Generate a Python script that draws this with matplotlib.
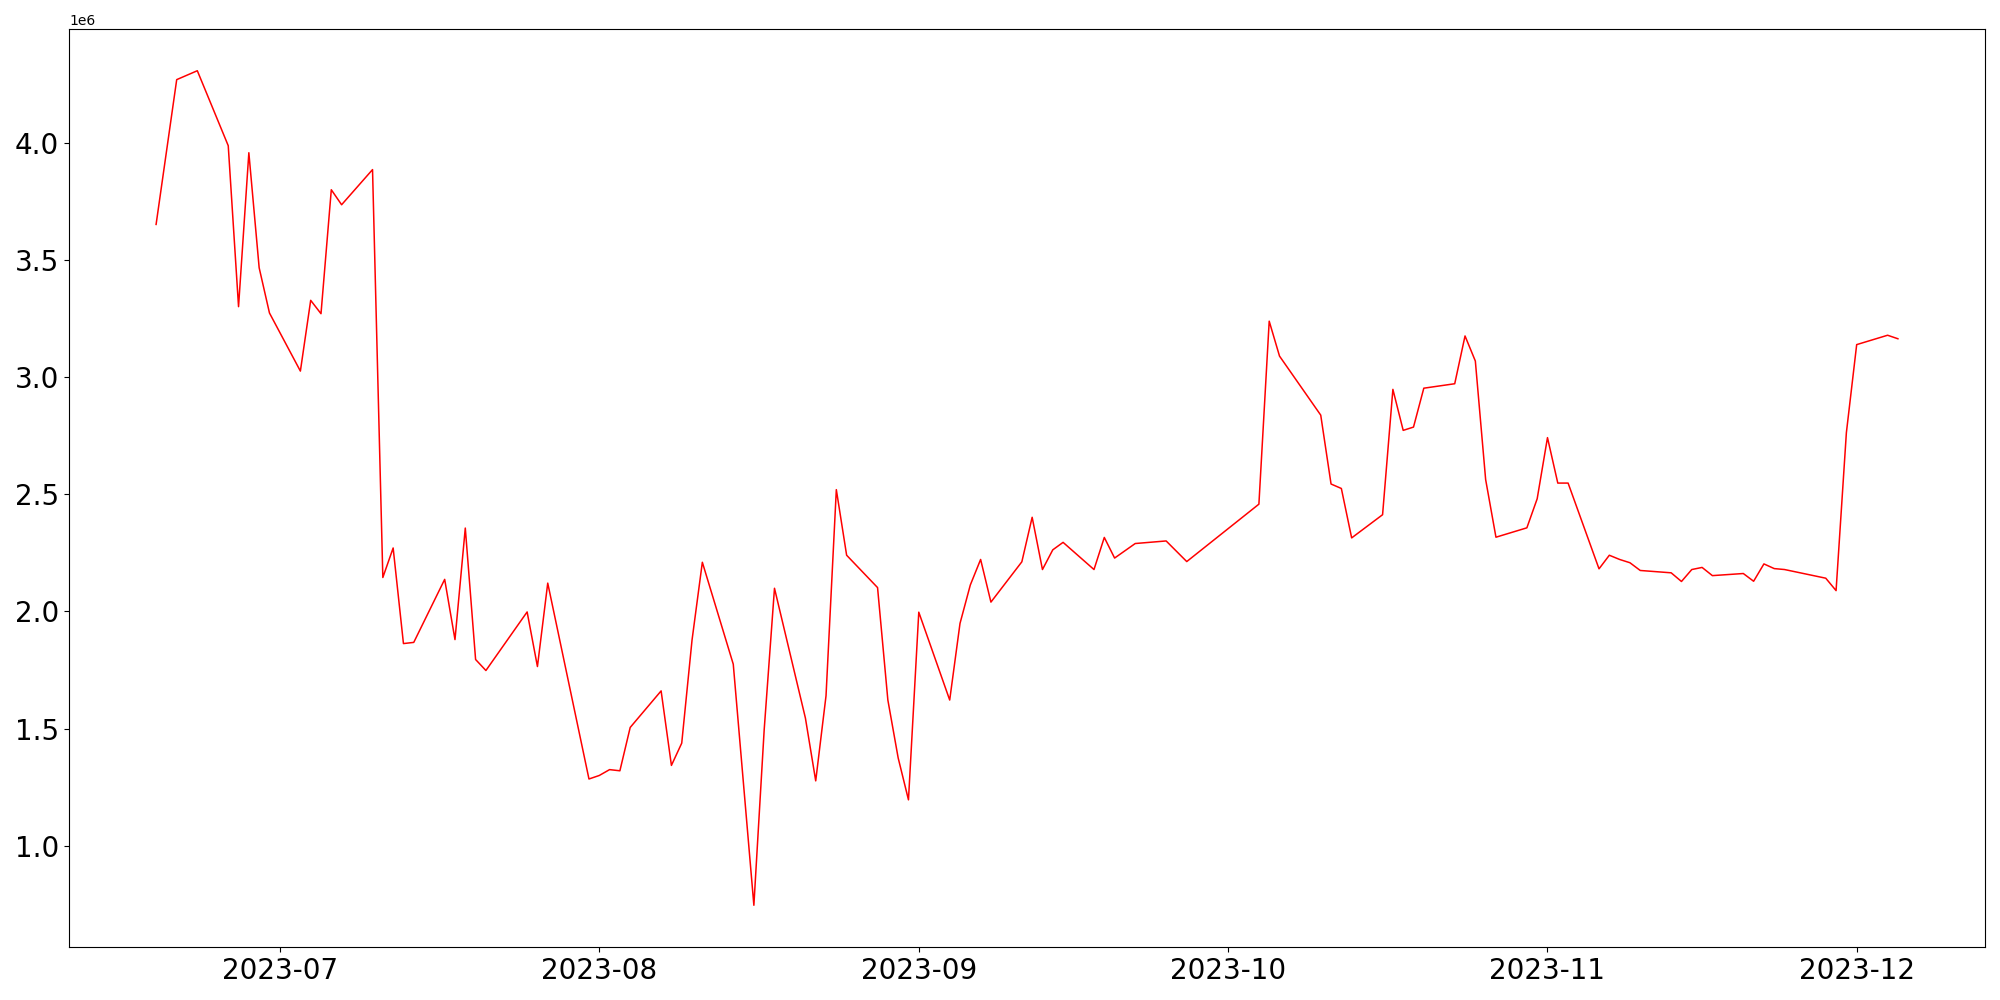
import matplotlib
matplotlib.use("Agg")
import matplotlib.pyplot as plt
import matplotlib.dates as mdates
import pandas as pd

dates = [
    "2023-06-19", "2023-06-21", "2023-06-23", "2023-06-26", "2023-06-27", "2023-06-28",
    "2023-06-29", "2023-06-30", "2023-07-03", "2023-07-04", "2023-07-05", "2023-07-06",
    "2023-07-07", "2023-07-10", "2023-07-11", "2023-07-12", "2023-07-13", "2023-07-14",
    "2023-07-17", "2023-07-18", "2023-07-19", "2023-07-20", "2023-07-21", "2023-07-25",
    "2023-07-26", "2023-07-27", "2023-07-31", "2023-08-01", "2023-08-02", "2023-08-03",
    "2023-08-04", "2023-08-07", "2023-08-08", "2023-08-09", "2023-08-10", "2023-08-11",
    "2023-08-14", "2023-08-16", "2023-08-17", "2023-08-18", "2023-08-21", "2023-08-22",
    "2023-08-23", "2023-08-24", "2023-08-25", "2023-08-28", "2023-08-29", "2023-08-30",
    "2023-08-31", "2023-09-01", "2023-09-04", "2023-09-05", "2023-09-06", "2023-09-07",
    "2023-09-08", "2023-09-11", "2023-09-12", "2023-09-13", "2023-09-14", "2023-09-15",
    "2023-09-18", "2023-09-19", "2023-09-20", "2023-09-22", "2023-09-25", "2023-09-27",
    "2023-10-04", "2023-10-05", "2023-10-06", "2023-10-10", "2023-10-11", "2023-10-12",
    "2023-10-13", "2023-10-16", "2023-10-17", "2023-10-18", "2023-10-19", "2023-10-20",
    "2023-10-23", "2023-10-24", "2023-10-25", "2023-10-26", "2023-10-27", "2023-10-30",
    "2023-10-31", "2023-11-01", "2023-11-02", "2023-11-03", "2023-11-06", "2023-11-07",
    "2023-11-08", "2023-11-09", "2023-11-10", "2023-11-13", "2023-11-14", "2023-11-15",
    "2023-11-16", "2023-11-17", "2023-11-20", "2023-11-21", "2023-11-22", "2023-11-23",
    "2023-11-24", "2023-11-28", "2023-11-29", "2023-11-30", "2023-12-01", "2023-12-04",
    "2023-12-05",
]

values_millions = [
    3.652, 4.270, 4.308, 3.988, 3.301, 3.958,
    3.467, 3.274, 3.026, 3.328, 3.271, 3.800,
    3.736, 3.886, 2.145, 2.271, 1.863, 1.868,
    2.137, 1.880, 2.356, 1.795, 1.748, 1.998,
    1.765, 2.121, 1.285, 1.300, 1.325, 1.320,
    1.505, 1.661, 1.343, 1.438, 1.878, 2.210,
    1.775, 0.746, 1.495, 2.099, 1.545, 1.277,
    1.640, 2.520, 2.240, 2.102, 1.622, 1.375,
    1.196, 1.997, 1.622, 1.949, 2.113, 2.222,
    2.040, 2.212, 2.402, 2.179, 2.263, 2.295,
    2.179, 2.316, 2.228, 2.290, 2.301, 2.213,
    2.458, 3.239, 3.090, 2.838, 2.544, 2.525,
    2.314, 2.413, 2.948, 2.773, 2.787, 2.953,
    2.972, 3.176, 3.069, 2.563, 2.317, 2.357,
    2.481, 2.742, 2.548, 2.548, 2.182, 2.240,
    2.222, 2.208, 2.175, 2.165, 2.128, 2.179,
    2.188, 2.153, 2.162, 2.129, 2.203, 2.183,
    2.179, 2.142, 2.089, 2.763, 3.139, 3.179,
    3.164,
]

x = pd.to_datetime(dates)
y = [v * 1e6 for v in values_millions]

fig = plt.figure(figsize=(20, 10), dpi=100)
ax = fig.add_axes([0.0345, 0.053, 0.958, 0.918])
ax.plot(x, y, color="red", linewidth=1.1)

ax.xaxis.set_major_locator(mdates.MonthLocator())
ax.xaxis.set_major_formatter(mdates.DateFormatter("%Y-%m"))
ax.tick_params(axis="both", labelsize=20)
ax.yaxis.get_offset_text().set_fontsize(10)

fig.savefig("out.png", dpi=100)
